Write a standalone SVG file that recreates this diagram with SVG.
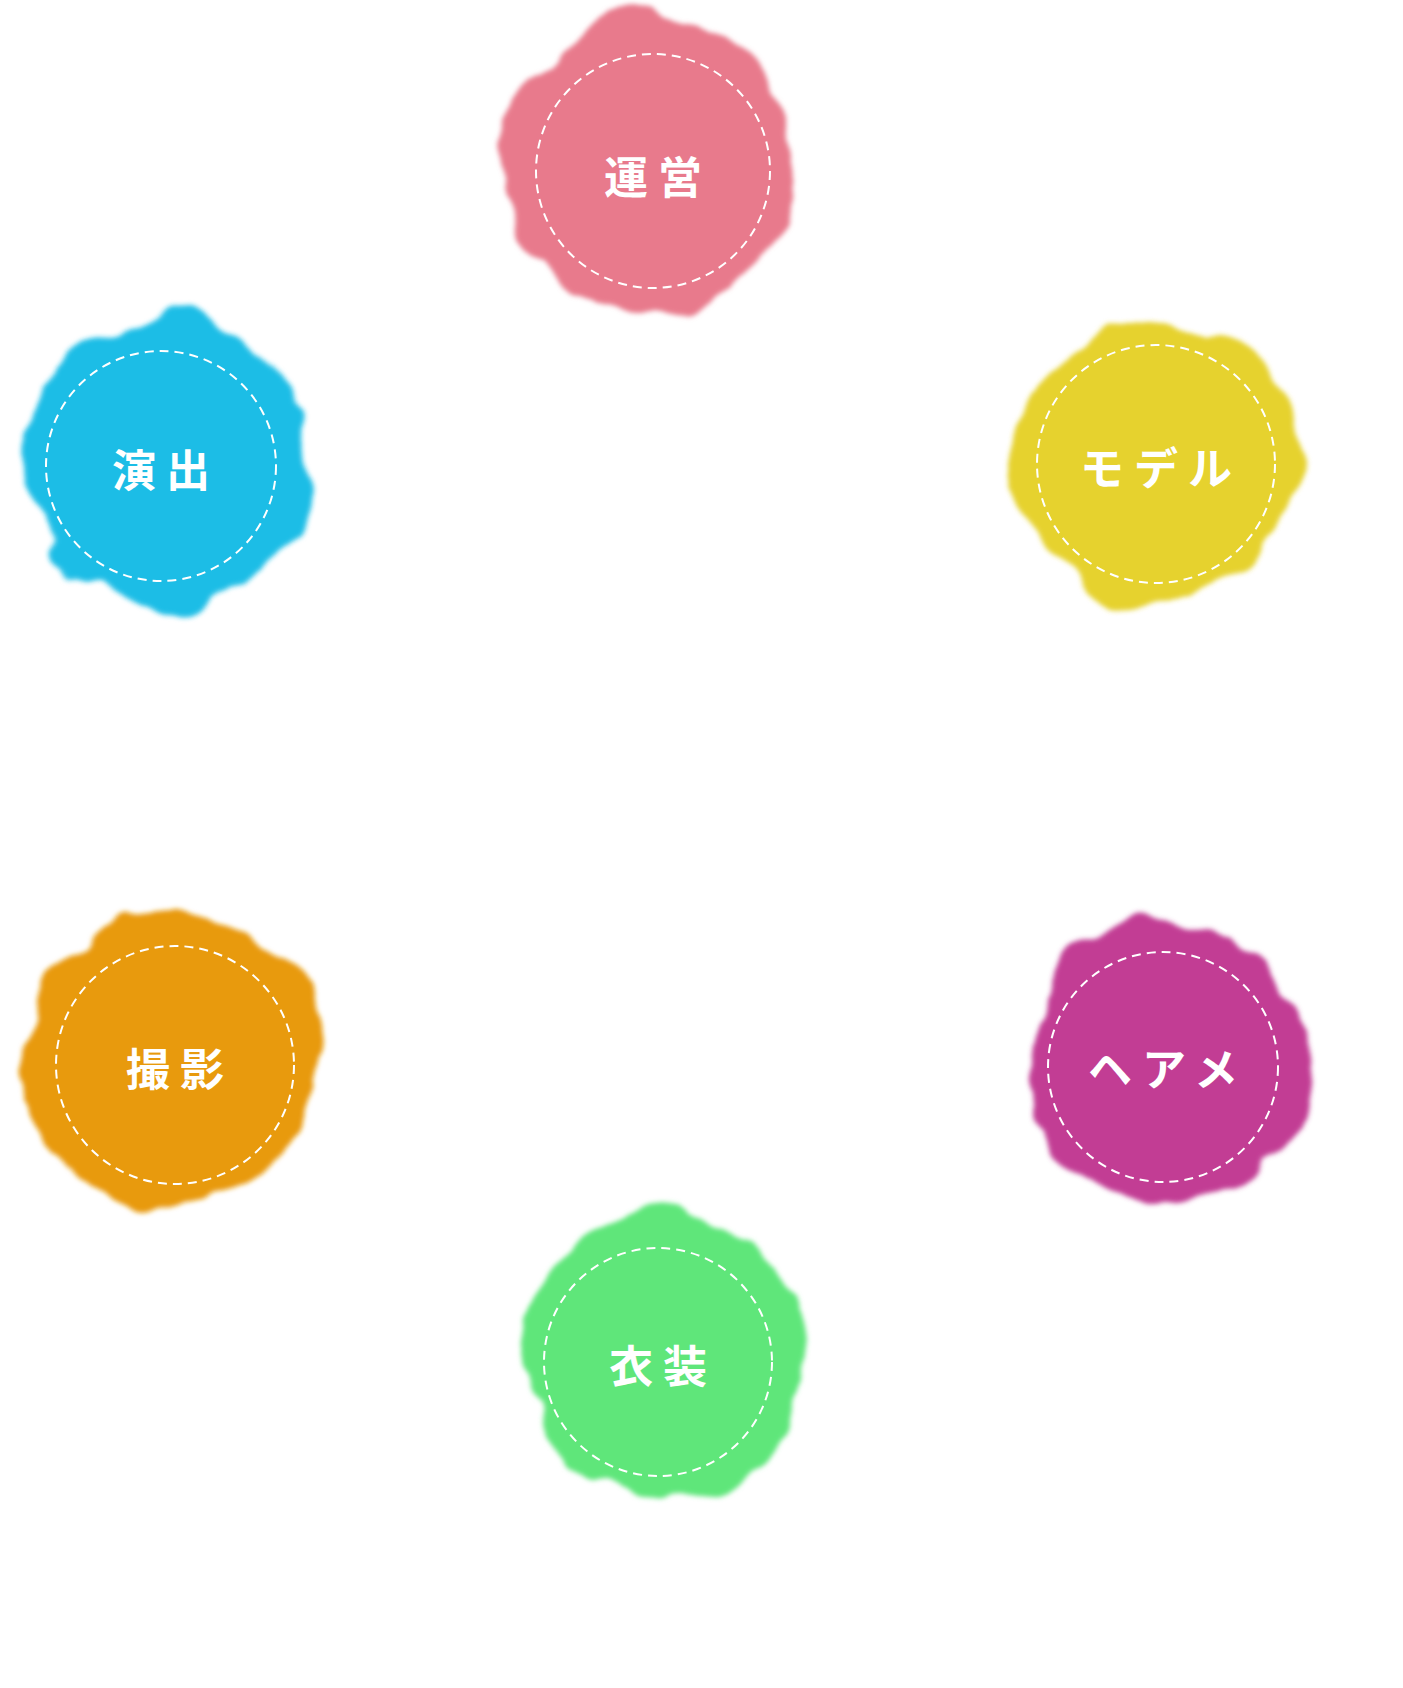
<svg xmlns="http://www.w3.org/2000/svg" width="1403" height="1688" viewBox="0 0 1403 1688">
<defs>
<filter id="wc" x="-30%" y="-30%" width="160%" height="160%">
<feTurbulence type="fractalNoise" baseFrequency="0.012" numOctaves="3" seed="4" result="n"/>
<feDisplacementMap in="SourceGraphic" in2="n" scale="45" xChannelSelector="R" yChannelSelector="G" result="d"/>
<feGaussianBlur in="d" stdDeviation="2.5"/>
</filter>
<style>
.dash{fill:none;stroke:#fff;stroke-width:2;stroke-dasharray:9 6}
.lbl{fill:#fff;font-family:"Noto Sans CJK JP",sans-serif;font-weight:bold;font-size:44px;letter-spacing:10px;text-anchor:middle;dominant-baseline:central}
</style>
</defs>
<rect width="1403" height="1688" fill="#fff"/>
<g id="unei"><circle cx="650" cy="163" r="148" fill="#e87a8c" filter="url(#wc)"/><circle class="dash" cx="653" cy="171" r="117"/><text class="lbl" x="658" y="175">運営</text></g>
<g id="enshutsu"><circle cx="165" cy="462" r="145" fill="#1bbde6" filter="url(#wc)"/><circle class="dash" cx="161" cy="466" r="115"/><text class="lbl" x="166" y="468">演出</text></g>
<g id="model"><circle cx="1156" cy="462" r="142" fill="#e6d22e" filter="url(#wc)"/><circle class="dash" cx="1156" cy="464" r="119"/><text class="lbl" x="1161" y="466">モデル</text></g>
<g id="satsuei"><circle cx="173" cy="1058" r="148" fill="#e89a10" filter="url(#wc)"/><circle class="dash" cx="175" cy="1065" r="119"/><text class="lbl" x="180" y="1067">撮影</text></g>
<g id="heame"><circle cx="1165" cy="1063" r="142" fill="#c23e94" filter="url(#wc)"/><circle class="dash" cx="1163" cy="1067" r="115"/><text class="lbl" x="1168" y="1067">ヘアメ</text></g>
<g id="ishou"><circle cx="662" cy="1355" r="142" fill="#5ee67a" filter="url(#wc)"/><circle class="dash" cx="658" cy="1362" r="114"/><text class="lbl" x="663" y="1364">衣装</text></g>
<g id="connectors"/>
</svg>
